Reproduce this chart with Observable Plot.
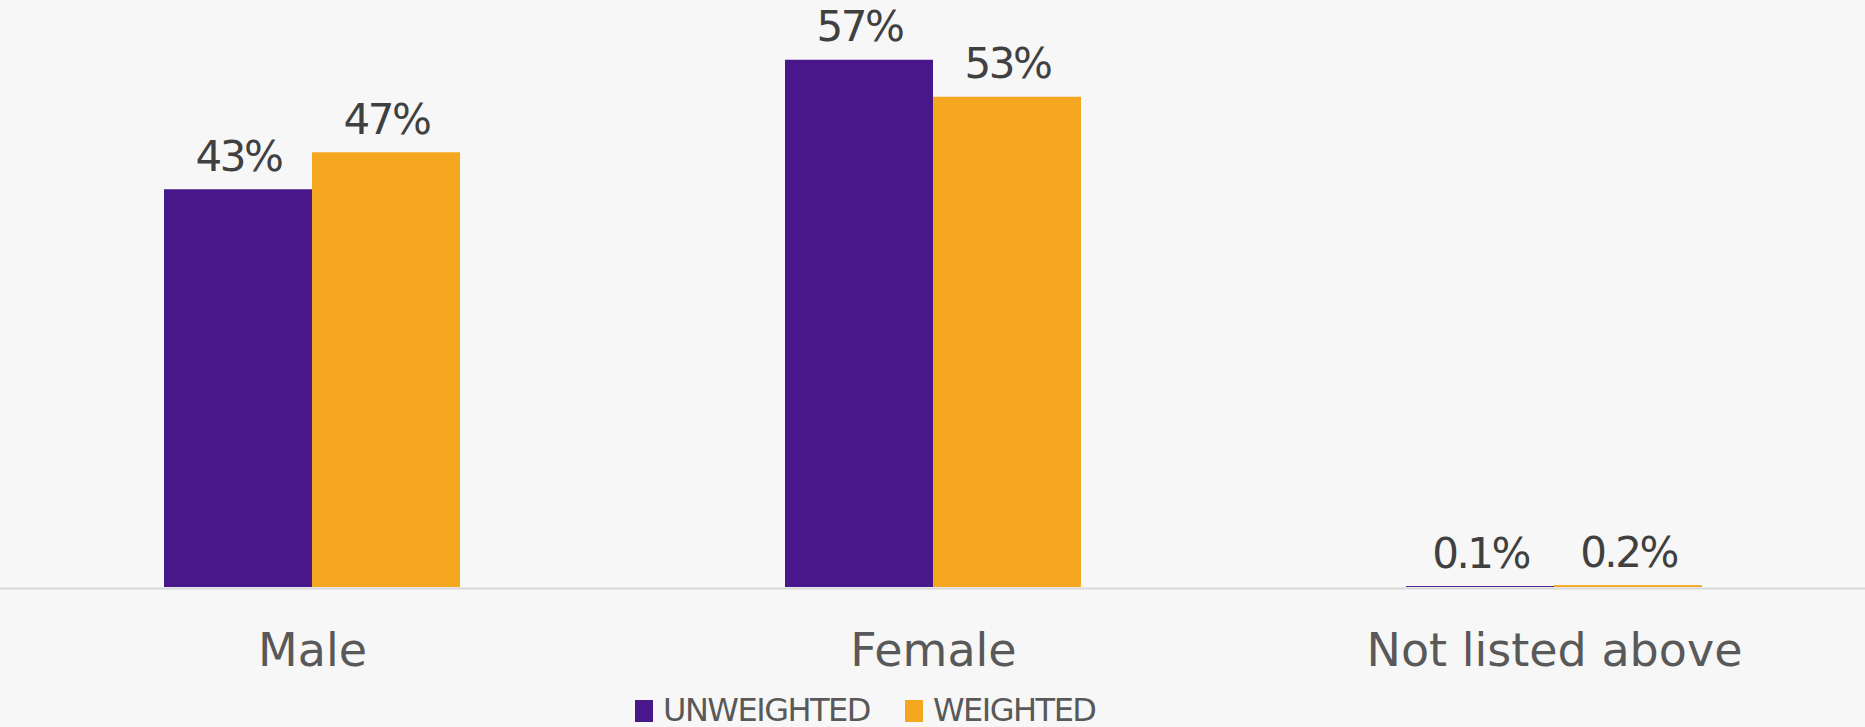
<!DOCTYPE html>
<html>
<head>
<meta charset="utf-8">
<script src="https://cdn.jsdelivr.net/npm/d3@7"></script>
<script src="https://cdn.jsdelivr.net/npm/@observablehq/plot@0.6"></script>
<style>
  html, body { margin: 0; padding: 0; background: #f7f7f7; }
  body { width: 1865px; height: 727px; overflow: hidden; font-family: "DejaVu Sans", sans-serif; }
  #chart svg { display: block; background: #f7f7f7; }
  #chart g[aria-label="text"] text { letter-spacing: -2.5px; }
  #legend { height: 47px; box-sizing: border-box; padding-top: 12px; padding-left: 635px; display: flex; align-items: center; }
  .item { display: flex; align-items: center; margin-right: 35px; }
  .swatch { width: 18px; height: 22px; margin-right: 10px; margin-top: 2px; }
  .label { font-size: 32px; letter-spacing: -1.5px; color: #595959; line-height: 1; }
</style>
</head>
<body>
<div id="chart"></div>
<div id="legend"></div>
<script>
const categories = ["Male", "Female", "Not listed above"];
const series = ["UNWEIGHTED", "WEIGHTED"];
const unweighted = [43, 57, 0.1];
const weighted = [47, 53, 0.2];
const colors = ["#48188a", "#f5a81f"];

const rowsU = categories.map((c, i) => ({category: c, value: unweighted[i]}));
const rowsW = categories.map((c, i) => ({category: c, value: weighted[i]}));

const W = 1865, padIn = 0.5235, padOut = 0.263;
const step = W / (categories.length - padIn + 2 * padOut);
const bw = step * (1 - padIn);
const half = bw / 2;
const fmt = d => `${d.value}%`;

const plot = Plot.plot({
  width: W,
  height: 680,
  marginLeft: 0,
  marginRight: 0,
  marginTop: 32,
  marginBottom: 93,
  style: {background: "#f7f7f7", fontFamily: "DejaVu Sans, sans-serif"},
  x: {domain: categories, paddingInner: padIn, paddingOuter: padOut, label: null, axis: null},
  y: {domain: [0, 60], axis: null},
  marks: [
    Plot.barY(rowsU, {x: "category", y: "value", fill: colors[0], insetRight: half}),
    Plot.barY(rowsW, {x: "category", y: "value", fill: colors[1], insetLeft: half}),
    Plot.ruleY([0], {stroke: "#d9d9d9", strokeWidth: 2, dy: 1}),
    Plot.text(rowsU, {x: "category", y: "value", text: fmt, dx: -half / 2,
      lineAnchor: "bottom", dy: -19, fontSize: 42, fill: "#404040"}),
    Plot.text(rowsW, {x: "category", y: "value", text: fmt, dx: half / 2,
      lineAnchor: "bottom", dy: -19, fontSize: 42, fill: "#404040"}),
    Plot.axisX({anchor: "bottom", tickSize: 0, tickPadding: 46, fontSize: 46, fill: "#595959", label: null})
  ]
});
document.getElementById("chart").appendChild(plot);

const legend = document.getElementById("legend");
series.forEach((s, i) => {
  const item = document.createElement("div");
  item.className = "item";
  const sw = document.createElement("div");
  sw.className = "swatch";
  sw.style.background = colors[i];
  const lb = document.createElement("div");
  lb.className = "label";
  lb.textContent = s;
  item.appendChild(sw);
  item.appendChild(lb);
  legend.appendChild(item);
});
</script>
</body>
</html>
